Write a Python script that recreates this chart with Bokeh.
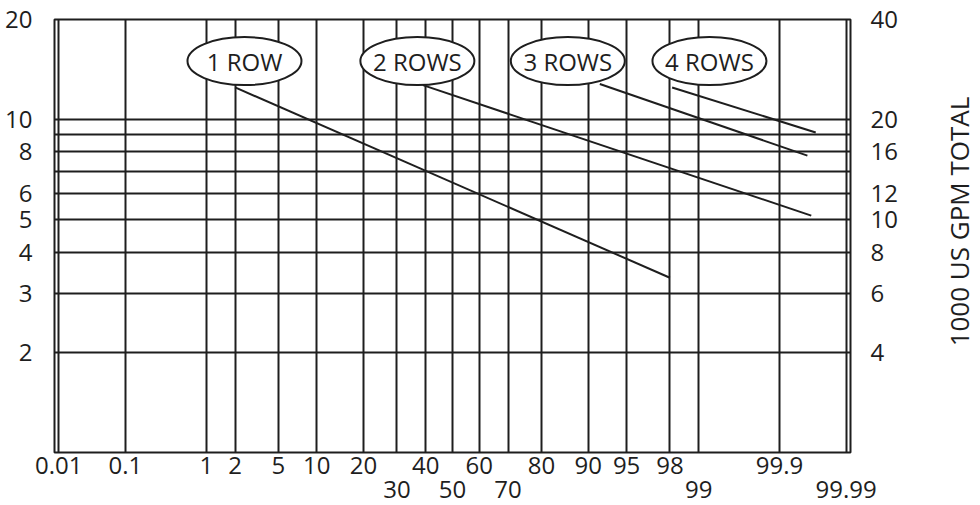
import math
from statistics import NormalDist
from bokeh.plotting import figure
from bokeh.layouts import row
from bokeh.models import (Range1d, LinearAxis, LogAxis, FixedTicker, CustomJSTickFormatter,
                          LogScale, ColumnDataSource)
from bokeh.core.properties import value
from bokeh.embed import file_html
from bokeh.resources import INLINE

# ---- data ----
x_ticks_pct = [0.01, 0.1, 1, 2, 5, 10, 20, 30, 40, 50, 60, 70, 80, 90, 95, 98, 99, 99.9, 99.99]
x_tick_labels = ["0.01", "0.1", "1", "2", "5", "10", "20", "30", "40", "50", "60", "70",
                 "80", "90", "95", "98", "99", "99.9", "99.99"]
x_lower_row = ["30", "50", "70", "99", "99.99"]

y_left_ticks = [2, 3, 4, 5, 6, 8, 10, 20]
y_left_labels = ["2", "3", "4", "5", "6", "8", "10", "20"]
y_right_ticks = [4, 6, 8, 10, 12, 16, 20, 40]
y_right_labels = ["4", "6", "8", "10", "12", "16", "20", "40"]
y_grid_values = [2, 3, 4, 5, 6, 7, 8, 9, 10]

series_names = ["1 ROW", "2 ROWS", "3 ROWS", "4 ROWS"]
series_pct = [[2, 98], [39, 99.965], [91.8, 99.96], [98.1, 99.97]]
series_val = [[12.5, 3.35], [12.7, 5.15], [12.8, 7.8], [12.5, 9.15]]
label_pct = [2.47, 37, 86.2, 99.24]
label_val = [15, 15, 15, 15]

right_title = "1000 US GPM TOTAL"

# ---- probability scale ----
nd = NormalDist()
def probit(p):
    return nd.inv_cdf(p / 100.0)

FONT = "Open Sans"
INK = "#1e1e1e"
Y_MIN, Y_MAX = 1, 20

p = figure(frame_width=796, frame_height=433,
           x_range=Range1d(-3.76, 3.76), y_range=Range1d(Y_MIN, Y_MAX),
           y_axis_type="log", output_backend="svg", toolbar_location=None,
           min_border_left=54, min_border_right=10, min_border_top=19, min_border_bottom=53)
p.background_fill_color = "white"
p.border_fill_color = "white"
p.outline_line_color = INK
p.outline_line_width = 2


def style_axis(ax, standoff):
    ax.axis_line_color = None
    ax.major_tick_line_color = None
    ax.minor_tick_line_color = None
    ax.major_label_standoff = standoff
    ax.major_label_text_font = FONT
    ax.major_label_text_font_size = "24px"
    ax.major_label_text_color = INK


# x axis (probability): two rows of labels
xt = [probit(v) for v in x_ticks_pct]
row1_ticks = [probit(v) for v, s in zip(x_ticks_pct, x_tick_labels) if s not in x_lower_row]
row1_labels = [s for s in x_tick_labels if s not in x_lower_row]
row2_ticks = [probit(v) for v, s in zip(x_ticks_pct, x_tick_labels) if s in x_lower_row]
row2_labels = [s for s in x_tick_labels if s in x_lower_row]

xa = p.xaxis[0]
xa.ticker = FixedTicker(ticks=row1_ticks)
xa.formatter = CustomJSTickFormatter(args=dict(labels=row1_labels), code="return labels[index];")
style_axis(xa, -2)

xa2 = LinearAxis(ticker=FixedTicker(ticks=row2_ticks))
xa2.formatter = CustomJSTickFormatter(args=dict(labels=row2_labels), code="return labels[index];")
style_axis(xa2, -2)
p.add_layout(xa2, "below")

# left axis
ya = p.yaxis[0]
ya.ticker = FixedTicker(ticks=y_left_ticks)
ya.formatter = CustomJSTickFormatter(args=dict(labels=y_left_labels), code="return labels[index];")
style_axis(ya, 16)

# right axis (ticks)
p.extra_y_ranges = {"right": Range1d(2, 40)}
p.extra_y_scales = {"right": LogScale()}
ra = LogAxis(y_range_name="right", ticker=FixedTicker(ticks=y_right_ticks))
ra.formatter = CustomJSTickFormatter(args=dict(labels=y_right_labels), code="return labels[index];")
style_axis(ra, 14)
p.add_layout(ra, "right")

# grids
p.xgrid.ticker = FixedTicker(ticks=xt)
p.xgrid.grid_line_color = INK
p.xgrid.grid_line_width = 2
p.ygrid.ticker = FixedTicker(ticks=y_grid_values)
p.ygrid.grid_line_color = INK
p.ygrid.grid_line_width = 2

# series lines
for pcts, vals in zip(series_pct, series_val):
    p.line([probit(v) for v in pcts], vals, line_color=INK, line_width=2)

# ellipse labels
src = ColumnDataSource(dict(x=[probit(v) for v in label_pct], y=label_val, t=series_names))
p.ellipse(x="x", y="y", width=114, height=48, width_units="screen", height_units="screen",
          fill_color="white", line_color=INK, line_width=2, source=src)
p.text(x="x", y="y", text="t", source=src, text_align="center", text_baseline="middle",
       text_font=value(FONT), text_font_size="24px", text_color=INK)

# right-hand title panel (text reads bottom to top)
t = figure(frame_width=78, frame_height=505, x_range=Range1d(0, 78), y_range=Range1d(505, 0),
           output_backend="svg", toolbar_location=None,
           min_border_left=0, min_border_right=0, min_border_top=0, min_border_bottom=0)
t.axis.visible = False
t.grid.visible = False
t.outline_line_color = None
t.background_fill_color = "white"
t.border_fill_color = "white"
t.text(x=[58], y=[202], text=[right_title], angle=math.pi / 2,
       text_align="center", text_baseline="middle",
       text_font=value(FONT), text_font_size="26px", text_color=INK)

layout = row(p, t, spacing=0)
open("out.html", "w").write(file_html(layout, INLINE))
